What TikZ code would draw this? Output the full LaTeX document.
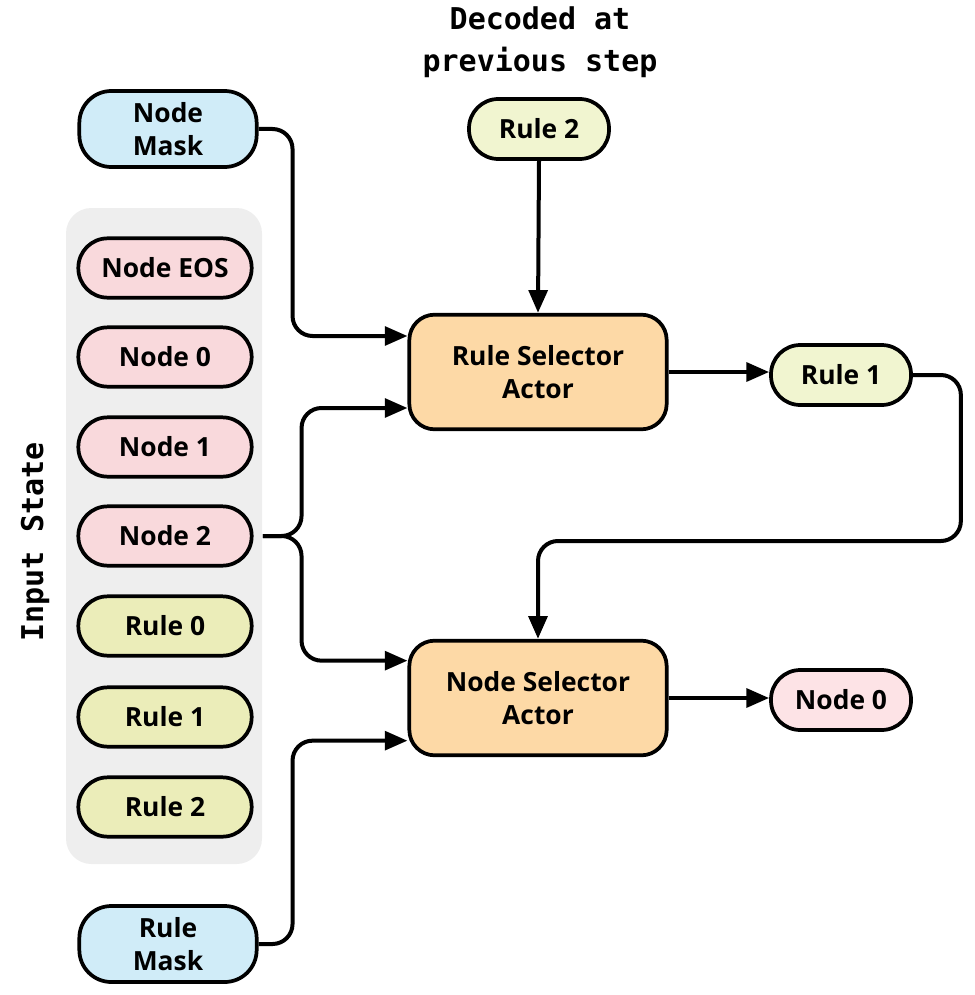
\documentclass[tikz,border=0pt]{standalone}
\usepackage{fontspec}
\setmainfont{Open Sans}
\setmonofont{DejaVu Sans Mono}
\usepackage{xcolor}
\usepackage{tikz}
\usetikzlibrary{arrows.meta,calc}
\definecolor{maskblue}{HTML}{D0ECF8}
\definecolor{nodepink}{HTML}{F9D9DC}
\definecolor{rulegreen}{HTML}{EBEDB9}
\definecolor{rulelight}{HTML}{F1F5D0}
\definecolor{actororange}{HTML}{FDD9A6}
\definecolor{outpink}{HTML}{FDE3E6}
\definecolor{panelgray}{HTML}{EEEEEE}

\begin{document}
\begin{tikzpicture}[x=0.75pt, y=-0.75pt,
  box/.style={draw=black, line width=2.8pt, align=center, inner sep=0pt,
    font=\fontsize{19.8}{24.5}\selectfont\bfseries},
  pill/.style={box, rounded corners=22pt, minimum width=130pt, minimum height=44.5pt},
  mask/.style={box, fill=maskblue, rounded corners=24pt, minimum width=133pt, minimum height=57pt},
  small/.style={box, rounded corners=22pt, minimum width=105pt, minimum height=45pt},
  actor/.style={box, fill=actororange, rounded corners=19pt, minimum width=193pt, minimum height=86pt},
  conn/.style={line width=3pt, rounded corners=15pt, -{Triangle[length=17pt,width=14pt]}},
  monolabel/.style={font=\fontsize{22.5}{31.5}\selectfont\ttfamily\bfseries, align=center}]
  \useasboundingbox (0,0) rectangle (974,995);
  % input state panel
  \fill[panelgray, rounded corners=19pt] (66,208) rectangle (262,864);
  \node[monolabel, rotate=90] (instate) at (35,542) {Input State};
  \node[pill, fill=nodepink] (neos) at (165,268) {Node EOS};
  \node[pill, fill=nodepink] (n0) at (165,357) {Node 0};
  \node[pill, fill=nodepink] (n1) at (165,447) {Node 1};
  \node[pill, fill=nodepink] (n2) at (165,536) {Node 2};
  \node[pill, fill=rulegreen] (r0) at (165,626) {Rule 0};
  \node[pill, fill=rulegreen] (r1) at (165,717) {Rule 1};
  \node[pill, fill=rulegreen] (r2) at (165,807) {Rule 2};
  % masks
  \node[mask] (nmask) at (168,129) {Node\\Mask};
  \node[mask] (rmask) at (168,944) {Rule\\Mask};
  % previous step
  \node[monolabel] (prev) at (540,42) {Decoded at\\previous step};
  \node[small, fill=rulelight] (rprev) at (539,129) {Rule 2};
  % actors
  \node[actor] (rsa) at (538,372) {Rule Selector\\Actor};
  \node[actor] (nsa) at (538,698) {Node Selector\\Actor};
  % outputs
  \node[small, fill=rulelight] (rout) at (841,375) {Rule 1};
  \node[small, fill=outpink] (nout) at (841,700) {Node 0};
  % connectors
  \draw[conn] (nmask.east) -- ++(34,0) |- ([yshift=27pt]rsa.west);
  \draw[conn, shorten <=7pt] (n2.east) -- ++(48,0) |- ([yshift=-27pt]rsa.west);
  \draw[conn, shorten <=7pt] (n2.east) -- ++(48,0) |- ([yshift=28pt]nsa.west);
  \draw[conn] (rmask.east) -- ++(34,0) |- ([yshift=-32pt]nsa.west);
  \draw[conn] (rprev.south) -- (rsa.north);
  \draw[conn] (rsa.east) -- (rsa.east -| rout.west);
  \draw[conn] (nsa.east) -- (nsa.east -| nout.west);
  \draw[conn] (rout.east) -- ++(48,0) -- ++(0,166) -| (nsa.north);
\end{tikzpicture}
\end{document}
